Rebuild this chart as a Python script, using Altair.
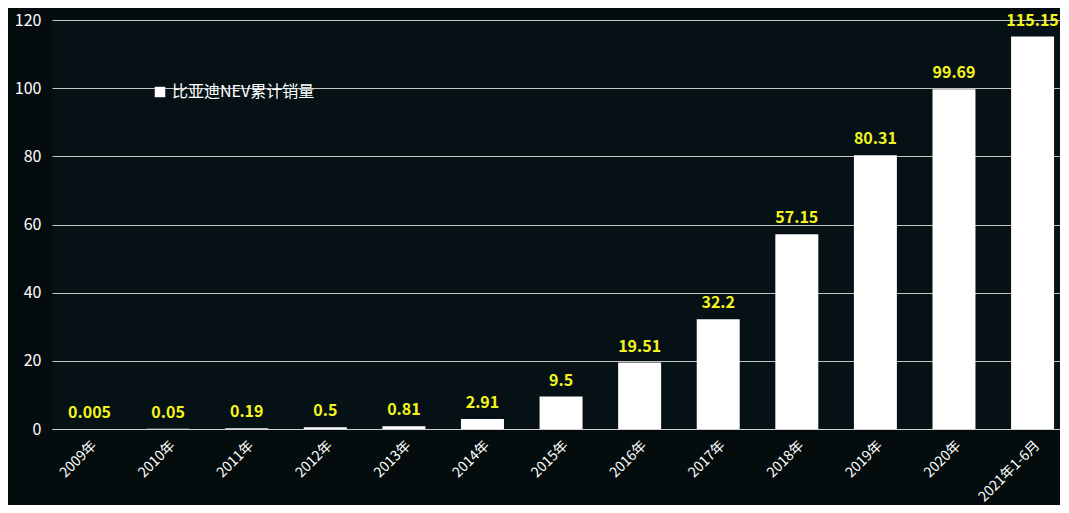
import altair as alt
import pandas as pd

categories = ["2009年", "2010年", "2011年", "2012年", "2013年", "2014年", "2015年",
              "2016年", "2017年", "2018年", "2019年", "2020年", "2021年1-6月"]
values = [0.005, 0.05, 0.19, 0.5, 0.81, 2.91, 9.5, 19.51, 32.2, 57.15, 80.31, 99.69, 115.15]
labels = ["0.005", "0.05", "0.19", "0.5", "0.81", "2.91", "9.5", "19.51", "32.2",
          "57.15", "80.31", "99.69", "115.15"]
series_name = "比亚迪NEV累计销量"

df = pd.DataFrame({"cat": categories, "val": values, "label": labels,
                   "series": [series_name] * len(categories)})

FONT = "Noto Sans CJK SC"

x = alt.X("cat:N", sort=categories, title=None,
          scale=alt.Scale(paddingInner=0.453, paddingOuter=0.14, align=0.73),
          axis=alt.Axis(labelAngle=-45, labelAlign="right", labelBaseline="top",
                        labelColor="white", labelFontSize=14, labelFont=FONT,
                        ticks=False, domain=True, domainColor="#d0d0d0",
                        labelPadding=9, grid=False))

y = alt.Y("val:Q", title=None,
          scale=alt.Scale(domain=[0, 120]),
          axis=alt.Axis(values=[0, 20, 40, 60, 80, 100, 120], labelColor="white",
                        labelFontSize=16, labelFont=FONT, ticks=False, domain=False,
                        gridColor="#c4c4c4", gridWidth=1, labelPadding=11))

bars = alt.Chart(df).mark_bar(color="white").encode(
    x=x, y=y,
    color=alt.Color("series:N", scale=alt.Scale(range=["white"]),
                    legend=alt.Legend(title=None, orient="none", legendX=100, legendY=64,
                                      symbolType="square", symbolSize=110,
                                      symbolStrokeWidth=0,
                                      labelColor="white", labelFontSize=16,
                                      labelFont=FONT, labelOffset=4))
)

text = alt.Chart(df).mark_text(color="#f5f51e", fontSize=16, fontWeight="bold",
                               font=FONT, dy=-16).encode(
    x=alt.X("cat:N", sort=categories), y="val:Q", text="label:N"
)

chart = (bars + text).properties(
    width=1008, height=409,
    padding={"left": 6, "top": 4, "right": 0, "bottom": 0},
    background="#050c0d"
).configure_view(stroke=None, fill="#051114")

chart.save("out.html", embed_options={"renderer": "svg", "actions": False})
